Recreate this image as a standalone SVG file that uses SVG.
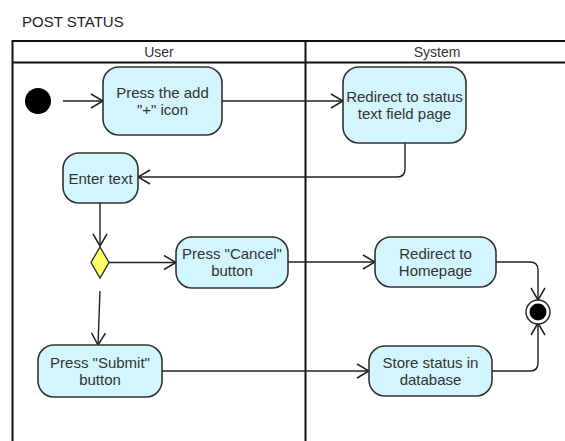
<svg xmlns="http://www.w3.org/2000/svg" width="565" height="441" viewBox="0 0 565 441">
  <style>
    text { font-family: "Liberation Sans", Arial, sans-serif; font-size: 15px; fill: #333333; text-anchor: middle; }
    .title { text-anchor: start; fill: #222222; }
    .lane { font-size: 14px; }
    .pool { fill: none; stroke: #111111; stroke-width: 2; }
    .action { fill: #d3f5fd; stroke: #333333; stroke-width: 1.6; }
    .decision { fill: #ffff66; stroke: #333333; stroke-width: 1.4; }
    .flow { fill: none; stroke: #222222; stroke-width: 1.4; marker-end: url(#open); }
  </style>
  <defs>
    <marker id="open" viewBox="0 0 14 16" refX="13" refY="8" markerWidth="14" markerHeight="16" markerUnits="userSpaceOnUse" orient="auto">
      <path d="M1 1 L13 8 L1 15" fill="none" stroke="#222222" stroke-width="1.5"/>
    </marker>
  </defs>

  <rect width="565" height="441" fill="#ffffff"/>
  <text class="title" x="22" y="27">POST STATUS</text>

  <!-- swimlane pool -->
  <g id="pool">
    <path class="pool" d="M12.5 441 V41 H570 M12.5 62.5 H570 M305.5 41 V441"/>
    <text class="lane" x="159" y="57">User</text>
    <text class="lane" x="437" y="57">System</text>
  </g>

  <!-- connectors -->
  <g id="connectors">
    <path class="flow" d="M63 101 H103"/>
    <path class="flow" d="M222 101 H343"/>
    <path class="flow" d="M405 143 V169 Q405 177 397 177 H138"/>
    <path class="flow" d="M100 203 V246"/>
    <path class="flow" d="M109 262.5 H176"/>
    <path class="flow" d="M288 262 H375"/>
    <path class="flow" d="M496 262 H530 Q538 262 538 270 V300"/>
    <path class="flow" d="M100 291 L98 345"/>
    <path class="flow" d="M162 371 H369"/>
    <path class="flow" d="M492 371 H530 Q538 371 538 363 V323"/>
  </g>

  <g id="start">
    <circle cx="38" cy="101" r="13" fill="#000000"/>
  </g>

  <g id="press-add">
    <rect class="action" x="103" y="67" width="119" height="68" rx="16"/>
    <text x="162.5" y="98">Press the add</text>
    <text x="162.5" y="115">"+" icon</text>
  </g>

  <g id="redirect-status">
    <rect class="action" x="343" y="67" width="123" height="76" rx="16"/>
    <text x="404.5" y="102">Redirect to status</text>
    <text x="404.5" y="119">text field page</text>
  </g>

  <g id="enter-text">
    <rect class="action" x="63" y="153" width="75" height="50" rx="16"/>
    <text x="100.5" y="184">Enter text</text>
  </g>

  <g id="decision">
    <path class="decision" d="M100 247 L109 262.5 L100 278 L91 262.5 Z"/>
  </g>

  <g id="press-cancel">
    <rect class="action" x="176" y="237" width="112" height="51" rx="16"/>
    <text x="232" y="259">Press "Cancel"</text>
    <text x="232" y="276">button</text>
  </g>

  <g id="redirect-home">
    <rect class="action" x="375" y="237" width="121" height="50" rx="16"/>
    <text x="435.5" y="259">Redirect to</text>
    <text x="435.5" y="276">Homepage</text>
  </g>

  <g id="press-submit">
    <rect class="action" x="38" y="345" width="124" height="52" rx="16"/>
    <text x="100" y="368">Press "Submit"</text>
    <text x="100" y="385">button</text>
  </g>

  <g id="store-status">
    <rect class="action" x="369" y="346" width="123" height="50" rx="16"/>
    <text x="430.5" y="368">Store status in</text>
    <text x="430.5" y="385">database</text>
  </g>

  <g id="end">
    <circle cx="538" cy="312" r="12" fill="#ffffff" stroke="#222222" stroke-width="1.4"/>
    <circle cx="538" cy="312" r="8.5" fill="#000000"/>
  </g>
</svg>
